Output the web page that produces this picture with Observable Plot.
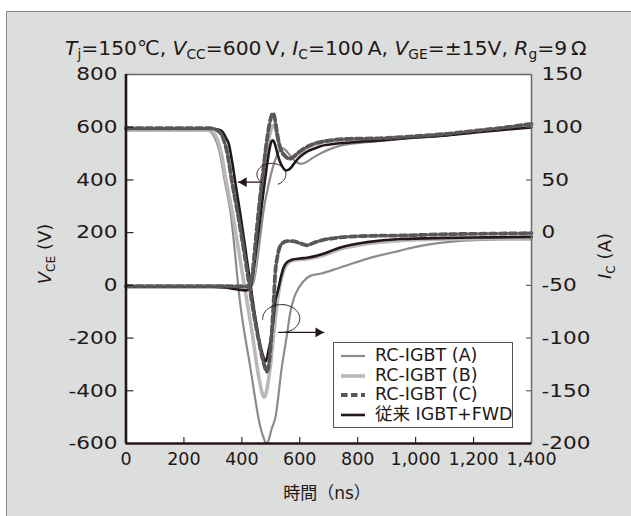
<!DOCTYPE html>
<html><head><meta charset="utf-8">
<script src="https://cdn.jsdelivr.net/npm/d3@7"></script>
<script src="https://cdn.jsdelivr.net/npm/@observablehq/plot@0.6"></script>
<style>
body{margin:0;background:#fff;width:631px;height:516px;overflow:hidden;position:relative;font-family:"DejaVu Sans","Noto Sans CJK JP",sans-serif;color:#231815}
#panel{position:absolute;left:6px;top:11px;width:640px;height:520px;background:#dcdddd;border-top:1.5px solid #8a8a8a;border-left:1.5px solid #8a8a8a}
#chart{position:absolute;left:0;top:0}
.t{position:absolute;white-space:nowrap;line-height:1}
.s{font-size:0.68em;position:relative;top:0.3em}
#title{left:65px;top:38px;font-size:20.3px}
#ylab{left:45px;top:254px;font-size:18px;transform:translate(-50%,-50%) rotate(-90deg)}
#ilab{left:605px;top:256px;font-size:18px;transform:translate(-50%,-50%) rotate(-90deg)}
#xlab{left:327px;top:493px;font-size:17px;transform:translate(-50%,-50%)}
#legend{position:absolute;left:333px;top:341.5px;width:180px;height:86px;background:#fff;border:1px solid #555;box-sizing:border-box;font-family:"DejaVu Sans","Noto Sans CJK JP",sans-serif}
.row{position:absolute;left:6px;width:172px;height:20px;display:flex;align-items:center;font-size:17.5px;line-height:1;white-space:nowrap}
.row svg{width:26px;height:10px;margin-right:9px;flex:none}
</style></head>
<body>
<div id="panel"></div>
<div id="chart"></div>
<div class="t" id="title"><i>T</i><span class="s">j</span>=150℃, <i>V</i><span class="s">CC</span>=600&thinsp;V, <i>I</i><span class="s">C</span>=100&thinsp;A, <i>V</i><span class="s">GE</span>=±15V, <i>R</i><span class="s">g</span>=9&thinsp;Ω</div>
<div class="t" id="ylab"><i>V</i><span class="s">CE</span> (V)</div>
<div class="t" id="ilab"><i>I</i><span class="s">C</span> (A)</div>
<div class="t" id="xlab">時間（ns）</div>
<div id="legend"></div>
<script>
// ---- axis ticks ----
const tickX = [0, 200, 400, 600, 800, 1000, 1200, 1400];
const tickV = [800, 600, 400, 200, 0, -200, -400, -600];      // left axis, V_CE (V)
const tickI = [150, 100, 50, 0, -50, -100, -150, -200];       // right axis, I_C (A)

// ---- series names ----
const names = ["RC-IGBT (A)", "RC-IGBT (B)", "RC-IGBT (C)", "従来 IGBT+FWD"];

// ---- collector current I_C (A), read against right axis ----
const curA_t = [0, 280, 295, 305, 322, 343, 360, 395, 429, 464, 477, 484, 492, 503, 516, 538, 555, 567, 580, 595, 610, 636, 671, 740, 855, 947, 1000, 1108, 1222, 1300, 1400];
const curA   = [97, 97, 95, 91, 78, 46, 21, -69, -127.5, -184.5, -196, -200, -197, -186, -175, -127.5, -98, -76, -62, -53, -47, -41, -39, -33, -23, -17, -13.5, -9, -6.8, -6.5, -6.5];

const curB_t = [0, 285, 300, 315, 330, 345, 366, 400, 436, 459, 468, 476, 483, 490, 498, 507, 516, 523, 530, 538, 546, 556, 575, 600, 625, 682, 740, 832, 947, 1108, 1250, 1400];
const curB   = [97.5, 97.5, 95.5, 89, 74, 50, 21, -36, -96, -138, -150, -156, -153, -143, -127.5, -104, -80, -64, -52, -42, -35, -30, -26.5, -25.5, -25, -21.5, -15.5, -10.5, -7.5, -6, -5.5, -5];

const curC_t = [0, 290, 315, 335, 350, 366, 384, 400, 420, 440, 458, 470, 480, 485, 490, 497, 503, 510, 516, 522, 527, 540, 555, 575, 600, 625, 645, 680, 740, 855, 950, 1108, 1250, 1400];
const curC   = [99, 99, 97, 90, 75, 48, 21, -5, -40, -75, -102, -118, -128, -132, -130, -115, -95, -64, -36, -24, -17, -10, -8, -8, -10, -12, -10, -7, -4.5, -3, -2.7, -1.5, -1, -0.5];

const curF_t = [0, 300, 320, 332, 345, 355, 366, 380, 395, 412, 429, 445, 460, 470, 476, 481, 486, 492, 498, 504, 510, 516, 522, 527, 535, 544, 556, 575, 600, 625, 650, 682, 740, 832, 947, 1108, 1250, 1400];
const curF   = [98.5, 98.5, 97.5, 96, 90, 84, 68, 43, 17, -15, -48, -78, -102, -114, -119, -122, -120, -112, -104, -94, -80, -64, -58, -52, -42, -33, -28, -25.5, -24.5, -23.8, -22.5, -20, -14, -9, -6, -5, -4.5, -4];

// ---- collector-emitter voltage V_CE (V), read against left axis ----
const volA_t = [0, 300, 430, 440, 450, 462, 475, 490, 505, 520, 532, 542, 552, 567, 585, 602, 620, 640, 659, 700, 740, 832, 900, 1000, 1108, 1200, 1300, 1400];
const volA   = [-5, -5, -5, 10, 70, 170, 284, 370, 440, 490, 515, 520, 512, 492, 470, 461, 466, 480, 493, 515, 530, 543, 550, 562, 572, 584, 596, 608];

const volB_t = [0, 300, 425, 433, 442, 452, 462, 476, 488, 498, 505, 510, 515, 521, 528, 536, 548, 562, 578, 595, 613, 648, 705, 774, 878, 1000, 1108, 1200, 1300, 1400];
const volB   = [-4, -4, -4, 5, 50, 150, 284, 420, 520, 580, 603, 607, 600, 575, 540, 512, 492, 480, 486, 502, 515, 534, 548, 553, 555, 563, 572, 583, 596, 609];

const volC_t = [0, 300, 420, 428, 436, 446, 458, 472, 485, 495, 502, 507, 512, 517, 522, 528, 536, 550, 565, 584, 600, 613, 648, 705, 774, 878, 1000, 1108, 1200, 1300, 1400];
const volC   = [-3, -3, -4, 0, 40, 150, 284, 420, 540, 610, 643, 653, 643, 612, 575, 540, 512, 490, 480, 493, 508, 518, 537, 550, 556, 558, 566, 575, 586, 598, 613];

const volF_t = [0, 300, 340, 380, 415, 425, 429, 435, 445, 460, 475, 488, 496, 501, 506, 511, 517, 524, 533, 543, 552, 560, 570, 580, 595, 613, 630, 648, 671, 722, 774, 878, 998, 1109, 1198, 1291, 1400];
const volF   = [-6, -6, -8, -15, -19, -14, -10, 15, 95, 225, 360, 465, 520, 543, 550, 545, 525, 495, 465, 445, 436, 438, 447, 462, 482, 499, 510, 518, 528, 537, 542, 550, 561, 569, 579, 589, 599];

// ---- styles ----
const styles = {
  A: {stroke: "#8c8c8c", strokeWidth: 2.2},
  B: {stroke: "#b9b9b9", strokeWidth: 3.6},
  C: {stroke: "#595757", strokeWidth: 3.8, strokeDasharray: "6.5,3.5"},
  F: {stroke: "#231815", strokeWidth: 2.6}
};
const toLeft = i => 4 * (i + 50);   // right-axis amps onto left-axis scale

const zip = (ts, vs) => ts.map((t, k) => ({t, v: vs[k]}));
const seriesData = {
  A: {cur: zip(curA_t, curA), vol: zip(volA_t, volA), name: names[0]},
  B: {cur: zip(curB_t, curB), vol: zip(volB_t, volB), name: names[1]},
  C: {cur: zip(curC_t, curC), vol: zip(volC_t, volC), name: names[2]},
  F: {cur: zip(curF_t, curF), vol: zip(volF_t, volF), name: names[3]}
};
const drawOrder = ["A", "B", "F", "C"];

// ---- annotation loops (data units) ----
const loopUpper = {t: 502, v: 421, rt: 50, rv: 42, from: 225, to: -62, tipT: 388, dir: -1};
const loopLower = {t: 536, v: -126, rt: 64, rv: 53, from: 183, to: -97, tipT: 683, dir: 1};
function loopPts(s) {
  return d3.range(0, 81).map(k => {
    const a = (s.from + (s.to - s.from) * k / 80) * Math.PI / 180;
    return {t: s.t + s.rt * Math.cos(a), v: s.v + s.rv * Math.sin(a)};
  });
}
function arrowMarks(s) {
  const pts = loopPts(s);
  const start = s.dir < 0 ? pts[0] : pts[pts.length - 1];
  const tip = {t: s.tipT, v: start.v};
  return [
    Plot.line(pts, {x: "t", y: "v", stroke: "#231815", strokeWidth: 1, curve: "linear"}),
    Plot.line([start, tip], {x: "t", y: "v", stroke: "#231815", strokeWidth: 1.2}),
    Plot.dot([tip], {x: "t", y: "v", symbol: "triangle", r: 3.6, fill: "#231815", stroke: "none",
      rotate: s.dir < 0 ? -90 : 90, dx: s.dir < 0 ? 5.5 : -5.5})
  ];
}

const lineMarks = [];
for (const k of drawOrder) {
  const sd = seriesData[k], st = styles[k];
  lineMarks.push(Plot.line(sd.cur, {x: "t", y: d => toLeft(d.v), ...st, curve: "monotone-x"}));
  lineMarks.push(Plot.line(sd.vol, {x: "t", y: "v", ...st, curve: "monotone-x"}));
}

const chart = Plot.plot({
  width: 631, height: 516,
  marginLeft: 125.5, marginRight: 100, marginTop: 74, marginBottom: 73,
  x: {domain: [tickX[0], tickX[tickX.length - 1]]},
  y: {domain: [tickV[tickV.length - 1], tickV[0]]},
  style: {background: "transparent", fontFamily: "'DejaVu Sans','Noto Sans CJK JP',sans-serif", color: "#231815", overflow: "visible"},
  marks: [
    Plot.frame({fill: "#fff", stroke: "none"}),
    ...lineMarks,
    ...arrowMarks(loopUpper),
    ...arrowMarks(loopLower),
    // ticks pointing inward (outward ticks shifted across the frame edge)
    Plot.axisY(tickV, {anchor: "left", tickSize: 8, dx: 8, fill: "none", stroke: "#231815", strokeWidth: 1.1, label: null}),
    Plot.axisY(tickI.map(toLeft), {anchor: "right", tickSize: 6, dx: -6, fill: "none", stroke: "#555", strokeWidth: 1.1, label: null}),
    Plot.axisX(tickX, {anchor: "bottom", tickSize: 6, dy: -6, fill: "none", stroke: "#231815", strokeWidth: 1.1, label: null}),
    // tick labels
    Plot.axisY(tickV, {anchor: "left", tickSize: 0, tickPadding: 8.5, fontSize: 18, fill: "#231815", label: null, tickFormat: d => String(d)}),
    Plot.axisY(tickI.map(toLeft), {anchor: "right", tickSize: 0, tickPadding: 10, fontSize: 18, fill: "#231815", label: null, tickFormat: d => String(d / 4 - 50)}),
    Plot.axisX(tickX, {anchor: "bottom", tickSize: 0, tickPadding: 9, fontSize: 17.5, fill: "#231815", label: null, tickFormat: d3.format(",")}),
    // frame
    Plot.ruleY([tickV[0]], {stroke: "#6a6a6a", strokeWidth: 1.5}),
    Plot.ruleX([tickX[tickX.length - 1]], {stroke: "#6a6a6a", strokeWidth: 1.5}),
    Plot.ruleX([tickX[0]], {stroke: "#231815", strokeWidth: 2.6}),
    Plot.ruleY([tickV[tickV.length - 1]], {stroke: "#231815", strokeWidth: 2.6})
  ]
});
document.getElementById("chart").append(chart);

// widen the y tick labels horizontally like the reference type
chart.querySelectorAll('g[aria-label="y-axis tick label"] text').forEach(el => {
  const tr = el.getAttribute("transform");
  if (tr) el.setAttribute("transform", tr + " scale(1.2,1)");
  else {
    const x = +el.getAttribute("x") || 0;
    el.removeAttribute("x");
    el.setAttribute("transform", `translate(${x},0) scale(1.2,1)`);
  }
});

// ---- legend ----
const legend = document.getElementById("legend");
const legendKeys = ["A", "B", "C", "F"];
const rowTops = [3.5, 23, 42.5, 62];
legendKeys.forEach((k, i) => {
  const st = styles[k];
  const row = document.createElement("div");
  row.className = "row";
  row.style.top = rowTops[i] + "px";
  row.innerHTML = `<svg viewBox="0 0 26 10"><line x1="1" y1="5" x2="25" y2="5" stroke="${st.stroke}" stroke-width="${st.strokeWidth}" ${st.strokeDasharray ? `stroke-dasharray="${st.strokeDasharray}"` : ""}/></svg><span>${seriesData[k].name}</span>`;
  legend.append(row);
});
</script>
</body></html>
